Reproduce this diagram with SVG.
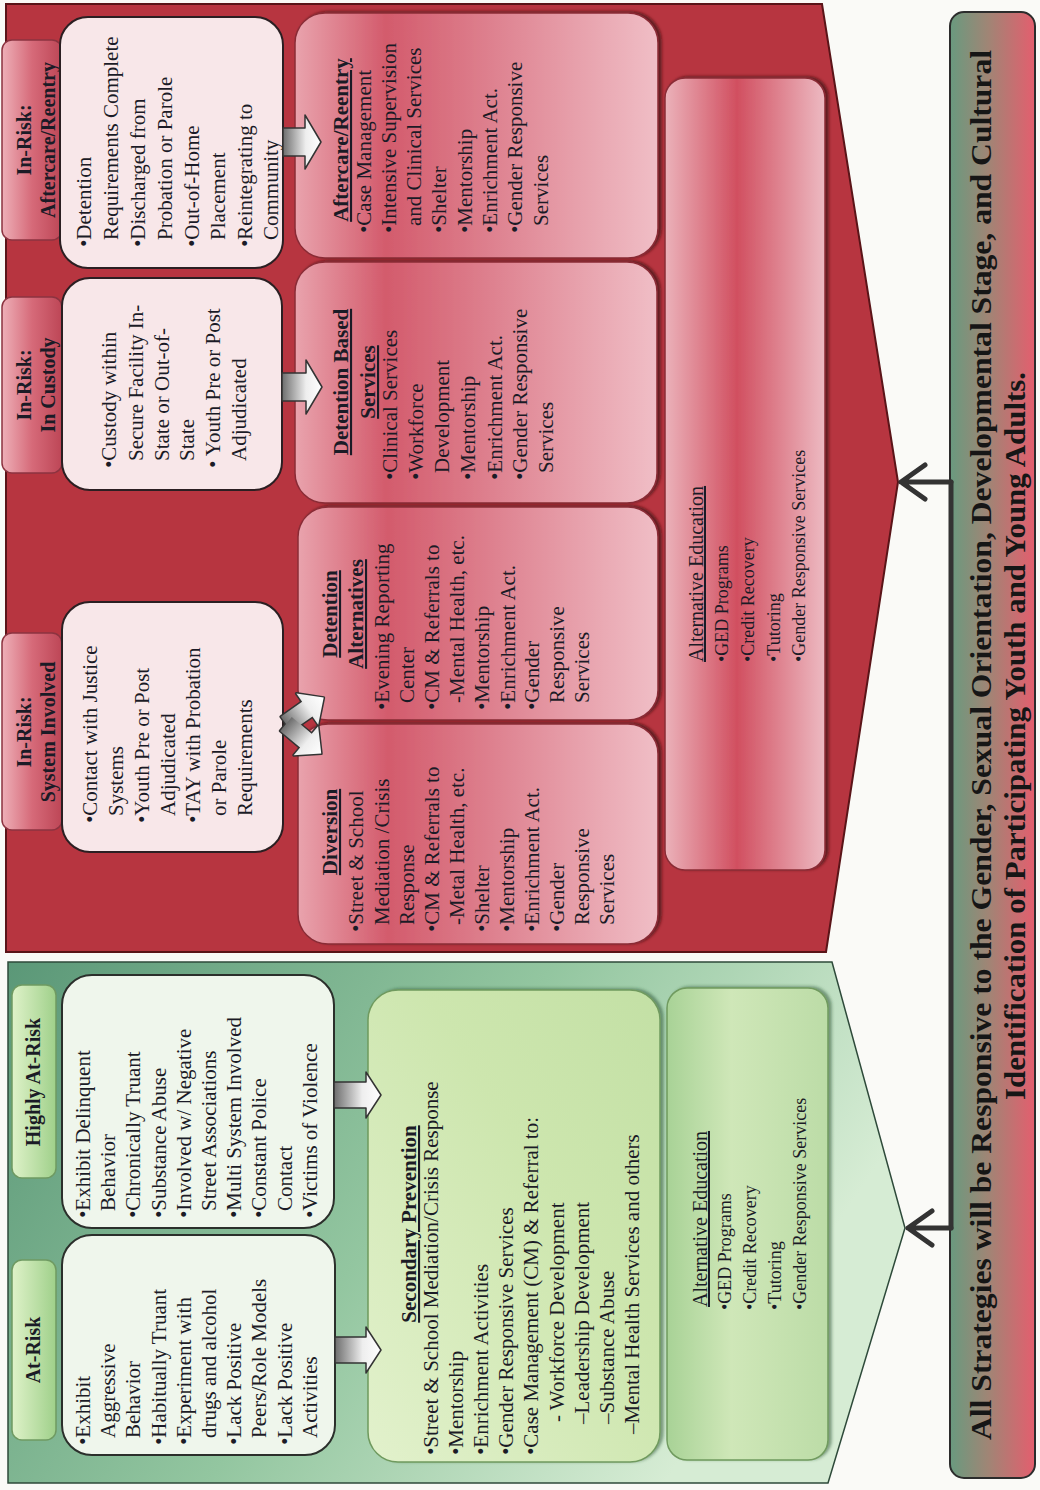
<svg xmlns="http://www.w3.org/2000/svg" width="1040" height="1490" viewBox="0 0 1040 1490">
<defs>
<style>
text{font-family:'Liberation Serif','Times New Roman',serif;fill:#1b1b26;}
.t{font-size:21px;}
.tag{font-size:20px;font-weight:bold;text-anchor:middle;}
.h{font-size:21px;font-weight:bold;text-decoration:underline;text-anchor:middle;}
.ae{font-size:18px;}
.aeh{font-size:20px;text-decoration:underline;}
.bn{font-size:29px;font-weight:bold;text-anchor:middle;fill:#161616;}
.wb{fill:#f8e7e9;stroke:#2b1f22;stroke-width:2;}
.gb{fill:#eff6ec;stroke:#2b2f2b;stroke-width:2;}
.rs{fill:url(#rsvc);stroke:#8a2c36;stroke-width:1.5;filter:url(#sh);}
.rtag{fill:url(#rtagg);stroke:#8c3340;stroke-width:1.5;}
.gtag{fill:url(#gtagg);stroke:#6f9a62;stroke-width:1.5;}
.blk{fill:url(#arrg);stroke:#333;stroke-width:1.5;stroke-linejoin:round;}
.cn{fill:none;stroke:#333;stroke-width:5;stroke-linecap:round;stroke-linejoin:round;}
</style>
<filter id="sh" x="-5%" y="-5%" width="110%" height="115%">
<feDropShadow dx="1" dy="3" stdDeviation="1.5" flood-color="#3a0a10" flood-opacity="0.7"/>
</filter>
<filter id="shg" x="-5%" y="-5%" width="110%" height="115%">
<feDropShadow dx="1" dy="3" stdDeviation="1.5" flood-color="#1f4a2a" flood-opacity="0.5"/>
</filter>
<linearGradient id="rsvc" x1="0" y1="0" x2="0" y2="1">
<stop offset="0" stop-color="#e9a3ad"/>
<stop offset="0.25" stop-color="#d35b6c"/>
<stop offset="0.55" stop-color="#de8290"/>
<stop offset="1" stop-color="#f0bec6"/>
</linearGradient>
<linearGradient id="rae" x1="0" y1="0" x2="0" y2="1">
<stop offset="0" stop-color="#ebb2ba"/>
<stop offset="0.45" stop-color="#d14f60"/>
<stop offset="1" stop-color="#edbac2"/>
</linearGradient>
<linearGradient id="rtagg" x1="0" y1="0" x2="0" y2="1">
<stop offset="0" stop-color="#eeb0b8"/>
<stop offset="0.5" stop-color="#d66a79"/>
<stop offset="1" stop-color="#bd4656"/>
</linearGradient>
<linearGradient id="gtagg" x1="0" y1="0" x2="0" y2="1">
<stop offset="0" stop-color="#dff2c9"/>
<stop offset="1" stop-color="#9fd08a"/>
</linearGradient>
<linearGradient id="greenbg" gradientUnits="userSpaceOnUse" x1="528" y1="0" x2="60" y2="700">
<stop offset="0" stop-color="#5a9777"/>
<stop offset="0.55" stop-color="#93c6a0"/>
<stop offset="1" stop-color="#d6ecd4"/>
</linearGradient>
<linearGradient id="gsp" x1="0" y1="0" x2="1" y2="1">
<stop offset="0" stop-color="#e2f1cc"/>
<stop offset="0.6" stop-color="#cde6ae"/>
<stop offset="1" stop-color="#c3e0a5"/>
</linearGradient>
<linearGradient id="gae" x1="0" y1="0" x2="0" y2="1">
<stop offset="0" stop-color="#a8d296"/>
<stop offset="0.4" stop-color="#cfe7b8"/>
<stop offset="1" stop-color="#bcdca7"/>
</linearGradient>
<linearGradient id="bang" x1="0" y1="0" x2="0" y2="1">
<stop offset="0" stop-color="#699a7f"/>
<stop offset="0.45" stop-color="#a08575"/>
<stop offset="1" stop-color="#e45e6e"/>
</linearGradient>
<linearGradient id="arrg" x1="0" y1="0" x2="0" y2="1">
<stop offset="0" stop-color="#6d6d6d"/>
<stop offset="0.6" stop-color="#eeeeee"/>
<stop offset="1" stop-color="#ffffff"/>
</linearGradient>
</defs>
<rect width="1040" height="1490" fill="#fafaf7"/>
<g transform="translate(0,1490) rotate(-90)">

<g id="region-red">
<polygon points="538,6 1486,6 1486,822 1008,898 538,826" fill="#b73540" stroke="#5a1418" stroke-width="2"/>
</g>
<g id="region-green">
<polygon points="7,8 528,8 528,832 262,905 7,828" fill="url(#greenbg)" stroke="#2e4a3a" stroke-width="1.5"/>
</g>

<g id="tag-aftercare"><rect class="rtag" x="1250" y="2" width="200" height="60" rx="10"/>
<text class="tag"><tspan x="1350" y="31">In-Risk:</tspan><tspan x="1350" y="55">Aftercare/Reentry</tspan></text></g>
<g id="tag-custody"><rect class="rtag" x="1017" y="2" width="176" height="60" rx="10"/>
<text class="tag"><tspan x="1105" y="31">In-Risk:</tspan><tspan x="1105" y="55">In Custody</tspan></text></g>
<g id="tag-system"><rect class="rtag" x="660" y="2" width="197" height="60" rx="10"/>
<text class="tag"><tspan x="758" y="31">In-Risk:</tspan><tspan x="758" y="55">System Involved</tspan></text></g>
<g id="tag-highly"><rect class="gtag" x="312" y="12" width="193" height="44" rx="10"/>
<text class="tag" x="408" y="40">Highly At-Risk</text></g>
<g id="tag-atrisk"><rect class="gtag" x="50" y="12" width="180" height="44" rx="10"/>
<text class="tag" x="140" y="40">At-Risk</text></g>

<g id="box-aftercare-criteria"><rect class="wb" x="1222" y="60" width="251" height="223" rx="28"/>
<text class="t"><tspan x="1243" y="91">•Detention</tspan><tspan x="1250" y="118">Requirements Complete</tspan><tspan x="1243" y="145">•Discharged from</tspan><tspan x="1250" y="172">Probation or Parole</tspan><tspan x="1243" y="199">•Out-of-Home</tspan><tspan x="1250" y="225">Placement</tspan><tspan x="1243" y="252">•Reintegrating to</tspan><tspan x="1250" y="278">Community</tspan></text></g>

<g id="box-custody-criteria"><rect class="wb" x="1000" y="62" width="212" height="220" rx="28"/>
<text class="t"><tspan x="1022" y="116">•Custody within</tspan><tspan x="1029" y="143">Secure Facility In-</tspan><tspan x="1029" y="169">State or Out-of-</tspan><tspan x="1029" y="194">State</tspan><tspan x="1022" y="220">• Youth Pre or Post</tspan><tspan x="1029" y="246">Adjudicated</tspan></text></g>

<g id="box-system-criteria"><rect class="wb" x="638" y="62" width="250" height="221" rx="28"/>
<text class="t"><tspan x="667" y="97">•Contact with Justice</tspan><tspan x="674" y="123">Systems</tspan><tspan x="667" y="149">•Youth Pre or Post</tspan><tspan x="674" y="175">Adjudicated</tspan><tspan x="667" y="200">•TAY with Probation</tspan><tspan x="674" y="226">or Parole</tspan><tspan x="674" y="252">Requirements</tspan></text></g>

<g id="box-highly-criteria"><rect class="gb" x="262" y="62" width="253" height="272" rx="30"/>
<text class="t"><tspan x="272" y="90">•Exhibit Delinquent</tspan><tspan x="279" y="115">Behavior</tspan><tspan x="272" y="140">•Chronically Truant</tspan><tspan x="272" y="166">•Substance Abuse</tspan><tspan x="272" y="191">•Involved w/ Negative</tspan><tspan x="279" y="216">Street Associations</tspan><tspan x="272" y="241">•Multi System Involved</tspan><tspan x="272" y="266">•Constant Police</tspan><tspan x="279" y="292">Contact</tspan><tspan x="272" y="317">•Victims of Violence</tspan></text></g>

<g id="box-atrisk-criteria"><rect class="gb" x="35" y="62" width="220" height="273" rx="30"/>
<text class="t"><tspan x="45" y="90">•Exhibit</tspan><tspan x="52" y="115">Aggressive</tspan><tspan x="52" y="140">Behavior</tspan><tspan x="45" y="166">•Habitually Truant</tspan><tspan x="45" y="191">•Experiment with</tspan><tspan x="52" y="216">drugs and alcohol</tspan><tspan x="45" y="241">•Lack Positive</tspan><tspan x="52" y="266">Peers/Role Models</tspan><tspan x="45" y="292">•Lack Positive</tspan><tspan x="52" y="317">Activities</tspan></text></g>

<g id="svc-aftercare"><rect class="rs" x="1232" y="295" width="245" height="363" rx="30"/>
<text class="h" x="1350" y="348">Aftercare/Reentry</text>
<text class="t"><tspan x="1257" y="371">•Case Management</tspan><tspan x="1257" y="396">•Intensive Supervision</tspan><tspan x="1264" y="421">and Clinical Services</tspan><tspan x="1257" y="446">•Shelter</tspan><tspan x="1257" y="472">•Mentorship</tspan><tspan x="1257" y="497">•Enrichment Act.</tspan><tspan x="1257" y="522">•Gender Responsive</tspan><tspan x="1264" y="548">Services</tspan></text></g>

<g id="svc-detention-based"><rect class="rs" x="987" y="295" width="241" height="362" rx="30"/>
<text class="h"><tspan x="1108" y="348">Detention Based</tspan><tspan x="1108" y="375">Services</tspan></text>
<text class="t"><tspan x="1010" y="397">•Clinical Services</tspan><tspan x="1010" y="423">•Workforce</tspan><tspan x="1017" y="449">Development</tspan><tspan x="1010" y="475">•Mentorship</tspan><tspan x="1010" y="502">•Enrichment Act.</tspan><tspan x="1010" y="527">•Gender Responsive</tspan><tspan x="1017" y="553">Services</tspan></text></g>

<g id="svc-detention-alternatives"><rect class="rs" x="770" y="298" width="213" height="360" rx="30"/>
<text class="h"><tspan x="876" y="337">Detention</tspan><tspan x="876" y="363">Alternatives</tspan></text>
<text class="t"><tspan x="780" y="389">•Evening Reporting</tspan><tspan x="787" y="414">Center</tspan><tspan x="780" y="439">•CM &amp; Referrals to</tspan><tspan x="787" y="464">-Mental Health, etc.</tspan><tspan x="780" y="489">•Mentorship</tspan><tspan x="780" y="515">•Enrichment Act.</tspan><tspan x="780" y="539">•Gender</tspan><tspan x="787" y="564">Responsive</tspan><tspan x="787" y="589">Services</tspan></text></g>

<g id="svc-diversion"><rect class="rs" x="546" y="298" width="220" height="360" rx="30"/>
<text class="h" x="658" y="337">Diversion</text>
<text class="t"><tspan x="558" y="363">•Street &amp; School</tspan><tspan x="565" y="389">Mediation /Crisis</tspan><tspan x="565" y="414">Response</tspan><tspan x="558" y="439">•CM &amp; Referrals to</tspan><tspan x="565" y="464">-Metal Health, etc.</tspan><tspan x="558" y="489">•Shelter</tspan><tspan x="558" y="514">•Mentorship</tspan><tspan x="558" y="539">•Enrichment Act.</tspan><tspan x="558" y="564">•Gender</tspan><tspan x="565" y="589">Responsive</tspan><tspan x="565" y="614">Services</tspan></text></g>

<g id="svc-alt-ed-red"><rect x="620" y="665" width="792" height="160" rx="20" fill="url(#rae)" stroke="#8a2c36" stroke-width="1.5" filter="url(#sh)"/>
<text class="aeh" x="828" y="703">Alternative Education</text>
<text class="ae"><tspan x="828" y="728">•GED Programs</tspan><tspan x="828" y="754">•Credit Recovery</tspan><tspan x="828" y="780">•Tutoring</tspan><tspan x="828" y="805">•Gender Responsive Services</tspan></text></g>

<g id="svc-secondary-prevention"><rect x="28" y="368" width="472" height="292" rx="30" fill="url(#gsp)" stroke="#6f9a5e" stroke-width="1.5" filter="url(#shg)"/>
<text class="h" x="266" y="416">Secondary Prevention</text>
<text class="t"><tspan x="35" y="438">•Street &amp; School Mediation/Crisis Response</tspan><tspan x="35" y="463">•Mentorship</tspan><tspan x="35" y="488">•Enrichment Activities</tspan><tspan x="35" y="513">•Gender Responsive Services</tspan><tspan x="35" y="538">•Case Management (CM) &amp; Referral to:</tspan><tspan x="68" y="564">- Workforce Development</tspan><tspan x="66" y="589">–Leadership Development</tspan><tspan x="66" y="614">–Substance Abuse</tspan><tspan x="56" y="639">–Mental Health Services and others</tspan></text></g>

<g id="svc-alt-ed-green"><rect x="30" y="667" width="472" height="161" rx="20" fill="url(#gae)" stroke="#6f9a5e" stroke-width="1.5" filter="url(#shg)"/>
<text class="aeh" x="183" y="707">Alternative Education</text>
<text class="ae"><tspan x="180" y="731">•GED Programs</tspan><tspan x="180" y="756">•Credit Recovery</tspan><tspan x="180" y="781">•Tutoring</tspan><tspan x="180" y="806">•Gender Responsive Services</tspan></text></g>

<g id="banner"><rect x="12" y="950" width="1466" height="85" rx="14" fill="url(#bang)" stroke="#2c2c2c" stroke-width="2"/>
<text class="bn" x="745" y="991" textLength="1390" lengthAdjust="spacingAndGlyphs">All Strategies will be Responsive to the Gender, Sexual Orientation, Developmental Stage, and Cultural</text>
<text class="bn" x="754" y="1025" textLength="728" lengthAdjust="spacingAndGlyphs">Identification of Participating Youth and Young Adults.</text></g>

<g id="connectors">
<polygon class="blk" points="1334,283 1362,283 1362,305 1375,305 1348,321 1321,305 1334,305"/>
<polygon class="blk" points="1089,282 1117,282 1117,306 1130,306 1103,322 1076,306 1089,306"/>
<polygon class="blk" points="382,334 408,334 408,366 418,366 395,381 372,366 382,366"/>
<polygon class="blk" points="127,335 153,335 153,366 163,366 140,381 117,366 127,366"/>
<g transform="translate(766,286)">
<polygon points="-9,0 9,0 9,26 19,26 0,46 -19,26 -9,26" transform="rotate(-35)" fill="none" stroke="#333" stroke-width="3" stroke-linejoin="round"/>
<polygon points="-9,0 9,0 9,26 19,26 0,46 -19,26 -9,26" transform="rotate(40)" fill="none" stroke="#333" stroke-width="3" stroke-linejoin="round"/>
<polygon points="-9,0 9,0 9,26 19,26 0,46 -19,26 -9,26" transform="rotate(-35)" fill="url(#arrg)"/>
<polygon points="-9,0 9,0 9,26 19,26 0,46 -19,26 -9,26" transform="rotate(40)" fill="url(#arrg)"/>
</g>
<path class="cn" d="M262,951 H1008"/>
<path class="cn" d="M1008,951 V901 M991,925 L1008,901 L1025,925"/>
<path class="cn" d="M262,951 V908 M245,932 L262,908 L279,932"/>
</g>

</g>
</svg>
